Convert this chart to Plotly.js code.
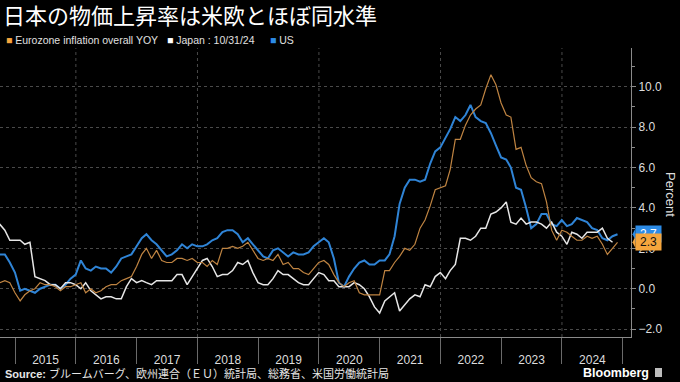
<!DOCTYPE html>
<html><head><meta charset="utf-8">
<script src="https://cdn.plot.ly/plotly-3.0.1.min.js"></script>
<style>html,body{margin:0;padding:0;background:#000;}#chart{width:680px;height:382px;}</style>
</head><body><div id="chart"></div>
<script>
// ---- data (monthly YoY %, first month = Sep 2014) ----
const startYear = 2014, startMonth = 9;
const usCPI = [
  1.7, 1.7, 1.3, 0.8,
  -0.1, 0.0, -0.1, -0.2, 0.0, 0.1, 0.2, 0.2, 0.0, 0.2, 0.5, 0.7,
  1.4, 1.0, 0.9, 1.1, 1.0, 1.0, 0.8, 1.1, 1.5, 1.6, 1.7, 2.1,
  2.5, 2.7, 2.4, 2.2, 1.9, 1.6, 1.7, 1.9, 2.2, 2.0, 2.2, 2.1,
  2.1, 2.2, 2.4, 2.5, 2.8, 2.9, 2.9, 2.7, 2.3, 2.5, 2.2, 1.9,
  1.6, 1.5, 1.9, 2.0, 1.8, 1.6, 1.8, 1.7, 1.7, 1.8, 2.1, 2.3,
  2.5, 2.3, 1.5, 0.3, 0.1, 0.6, 1.0, 1.3, 1.4, 1.2, 1.2, 1.4,
  1.4, 1.7, 2.6, 4.2, 5.0, 5.4, 5.4, 5.3, 5.4, 6.2, 6.8, 7.0,
  7.5, 7.9, 8.5, 8.3, 8.6, 9.1, 8.5, 8.3, 8.2, 7.7, 7.1, 6.5,
  6.4, 6.0, 5.0, 4.9, 4.0, 3.0, 3.2, 3.7, 3.7, 3.2, 3.1, 3.4,
  3.1, 3.2, 3.5, 3.4, 3.3, 3.0, 2.9, 2.5, 2.4, 2.6, 2.7
];
const euroCPI = [
  0.3, 0.4, 0.3, -0.2,
  -0.6, -0.3, -0.1, 0.0, 0.3, 0.2, 0.2, 0.1, -0.1, 0.1, 0.1, 0.2,
  0.3, -0.2, 0.0, -0.2, -0.1, 0.1, 0.2, 0.2, 0.4, 0.5, 0.6, 1.1,
  1.7, 2.0, 1.5, 1.9, 1.4, 1.3, 1.3, 1.5, 1.5, 1.4, 1.5, 1.3,
  1.3, 1.1, 1.4, 1.2, 2.0, 2.0, 2.1, 2.0, 2.1, 2.3, 1.9, 1.5,
  1.4, 1.5, 1.4, 1.7, 1.2, 1.3, 1.0, 1.0, 0.8, 0.7, 1.0, 1.3,
  1.4, 1.2, 0.7, 0.3, 0.1, 0.3, 0.4, -0.2, -0.3, -0.3, -0.3, -0.3,
  0.9, 0.9, 1.3, 1.6, 2.0, 1.9, 2.2, 3.0, 3.4, 4.1, 4.9, 5.0,
  5.1, 5.9, 7.4, 7.4, 8.1, 8.6, 8.9, 9.1, 9.9, 10.6, 10.1, 9.2,
  8.6, 8.5, 6.9, 7.0, 6.1, 5.5, 5.3, 5.2, 4.3, 2.9, 2.4, 2.9,
  2.8, 2.6, 2.4, 2.4, 2.6, 2.5, 2.6, 2.2, 1.7, 2.0, 2.3
];
const japanCPI = [
  3.2, 2.9, 2.4, 2.4,
  2.4, 2.2, 2.3, 0.6, 0.5, 0.4, 0.2, 0.2, 0.0, 0.3, 0.3, 0.2,
  0.0, 0.3, -0.1, -0.3, -0.5, -0.4, -0.4, -0.5, -0.5, 0.1, 0.5, 0.3,
  0.4, 0.3, 0.2, 0.4, 0.4, 0.4, 0.4, 0.7, 0.7, 0.2, 0.6, 1.0,
  1.4, 1.5, 1.1, 0.6, 0.7, 0.7, 0.9, 1.3, 1.2, 1.4, 0.8, 0.3,
  0.2, 0.2, 0.5, 0.9, 0.7, 0.7, 0.5, 0.3, 0.2, 0.2, 0.5, 0.8,
  0.7, 0.4, 0.4, 0.1, 0.1, 0.1, 0.3, 0.2, 0.0, -0.4, -0.9, -1.2,
  -0.6, -0.4, -0.2, -1.1, -0.8, -0.5, -0.3, -0.4, 0.2, 0.1, 0.6, 0.8,
  0.5, 0.9, 1.2, 2.5, 2.5, 2.4, 2.6, 3.0, 3.0, 3.7, 3.8, 4.0,
  4.3, 3.3, 3.2, 3.5, 3.2, 3.3, 3.3, 3.2, 3.0, 3.3, 2.8, 2.6,
  2.2, 2.8, 2.7, 2.5, 2.8, 2.8, 2.8, 3.0, 2.5, 2.3
];
const seriesNames = ['Eurozone inflation overall YOY', 'Japan : 10/31/24', 'US'];
const gridDates = ['2016-01-01', '2018-01-01', '2020-01-01', '2022-01-01', '2024-01-01'];
const xRange = ['2014-10-02', '2025-02-19'];
const yRange = [-2.39, 11.92];
const titleText = '日本の物価上昇率は米欧とほぼ同水準';
const sourceText = '<b>Source:</b> ブルームバーグ、欧州連合（ＥＵ）統計局、総務省、米国労働統計局';

// ---- helpers ----
function monthEnds(n) {
  const out = [];
  for (let i = 0; i < n; i++) {
    const m0 = startMonth - 1 + i;
    const y = startYear + Math.floor(m0 / 12);
    const m = (m0 % 12) + 1;
    const d = new Date(Date.UTC(y, m, 0)).getUTCDate();
    out.push(y + '-' + String(m).padStart(2, '0') + '-' + String(d).padStart(2, '0'));
  }
  return out;
}
const W = 680, H = 382, ML = 0, MR = 49, MT = 48, MB = 45;
const PW = W - ML - MR, PH = H - MT - MB;
const px = x => (x - ML) / PW;
const py = y => (H - MB - y) / PH;

const cEuro = '#f5a53d', cEuroLine = '#bf8442', cJapan = '#e6e6e6', cUS = '#2c8be6', cUSLine = '#2f84d6';
const txtFont = 'Liberation Sans, Arial, sans-serif';

const traces = [
  {x: monthEnds(usCPI.length), y: usCPI, type: 'scatter', mode: 'lines', name: seriesNames[2],
   line: {color: cUSLine, width: 2}},
  {x: monthEnds(japanCPI.length), y: japanCPI, type: 'scatter', mode: 'lines', name: seriesNames[1],
   line: {color: cJapan, width: 1.5}},
  {x: monthEnds(euroCPI.length), y: euroCPI, type: 'scatter', mode: 'lines', name: seriesNames[0],
   line: {color: cEuroLine, width: 1.2}}
];

const lastUS = usCPI[usCPI.length - 1];
const lastEuro = euroCPI[euroCPI.length - 1];

const shapes = gridDates.map(d => ({
  type: 'line', xref: 'x', yref: 'paper', x0: d, x1: d, y0: 0, y1: 1, layer: 'below',
  line: {color: '#4a4a4a', width: 1, dash: 'dot'}
}));
function pointer(v, color) {
  const tip = 1 + 1.5 / PW, base = 1 + 4.5 / PW, dv = 6 / ((PH) / (yRange[1] - yRange[0]));
  return {type: 'path', xref: 'paper', yref: 'y', fillcolor: color, line: {width: 0},
    path: 'M ' + tip + ' ' + v + ' L ' + base + ' ' + (v + dv) + ' L ' + base + ' ' + (v - dv) + ' Z'};
}
shapes.push(pointer(lastUS, cUS));
shapes.push(pointer(lastEuro, cEuro));
// Bloomberg icon
shapes.push({type: 'rect', xref: 'paper', yref: 'paper', x0: px(655), x1: px(662), y0: py(377), y1: py(368),
  fillcolor: '#bdbdbd', line: {width: 0}});

const legendItems = [
  {x: 4, color: cEuro, text: seriesNames[0]},
  {x: 165, color: '#ffffff', text: seriesNames[1]},
  {x: 268, color: cUS, text: seriesNames[2]}
];
const annotations = [];
legendItems.forEach(it => {
  annotations.push({xref: 'paper', yref: 'paper', x: px(it.x), y: py(40), xanchor: 'left', yanchor: 'middle',
    showarrow: false, text: '<span style="color:' + it.color + '">■</span> ' + it.text,
    font: {family: txtFont, size: 10.5, color: '#e0e0e0'}});
});
annotations.push({xref: 'paper', yref: 'y', x: 1, y: lastUS, xanchor: 'left', yanchor: 'middle', xshift: 4,
  showarrow: false, text: lastUS.toFixed(1), bgcolor: cUS, borderpad: 1, width: 23,
  font: {family: txtFont, size: 12, color: '#ffffff'}});
annotations.push({xref: 'paper', yref: 'y', x: 1, y: lastEuro, xanchor: 'left', yanchor: 'middle', xshift: 4,
  showarrow: false, text: lastEuro.toFixed(1), bgcolor: cEuro, borderpad: 1, width: 23,
  font: {family: txtFont, size: 12, color: '#111111'}});
annotations.push({xref: 'paper', yref: 'paper', x: px(671), y: py(194), textangle: 90, showarrow: false,
  text: 'Percent', font: {family: txtFont, size: 13, color: '#dddddd'}, xanchor: 'center', yanchor: 'middle'});
annotations.push({xref: 'paper', yref: 'paper', x: px(3), y: py(373), xanchor: 'left', yanchor: 'middle',
  showarrow: false, text: sourceText, font: {family: 'Liberation Sans, Noto Sans CJK JP, sans-serif', size: 11, color: '#e6e6e6'}});
annotations.push({xref: 'paper', yref: 'paper', x: px(651), y: py(373), xanchor: 'right', yanchor: 'middle',
  showarrow: false, text: '<b>Bloomberg</b>', font: {family: txtFont, size: 12.5, color: '#ffffff'}});

const layout = {
  width: W, height: H,
  margin: {l: ML, r: MR, t: MT, b: MB, pad: 0},
  paper_bgcolor: '#000', plot_bgcolor: '#000',
  showlegend: false,
  title: {text: titleText, font: {family: 'Noto Sans CJK JP, sans-serif', size: 22, color: '#ffffff'},
    xref: 'container', yref: 'container', x: 3 / W, xanchor: 'left', y: 1 - 16 / H, yanchor: 'middle'},
  xaxis: {type: 'date', range: xRange, dtick: 'M12', tick0: '2015-01-01', ticklabelmode: 'period',
    tickformat: '%Y', showgrid: false, zeroline: false, showline: true, linecolor: '#8a8a8a', linewidth: 1,
    ticks: 'outside', ticklen: 26, tickcolor: '#6a6a6a', tickwidth: 1, ticklabelstandoff: -14,
    tickfont: {family: txtFont, size: 12, color: '#dddddd'}},
  yaxis: {side: 'right', range: yRange, dtick: 2, tick0: 0, tickformat: '.1f', showgrid: true,
    gridcolor: '#4a4a4a', griddash: 'dot', gridwidth: 1, zeroline: false, showline: true, linecolor: '#8a8a8a',
    ticks: 'outside', ticklen: 4, tickcolor: '#8a8a8a',
    minor: {dtick: 1, ticks: 'outside', ticklen: 3, tickcolor: '#8a8a8a', showgrid: false},
    tickfont: {family: txtFont, size: 12, color: '#dddddd'}},
  shapes: shapes,
  annotations: annotations
};
Plotly.newPlot('chart', traces, layout, {staticPlot: true, displayModeBar: false});
</script></body></html>
